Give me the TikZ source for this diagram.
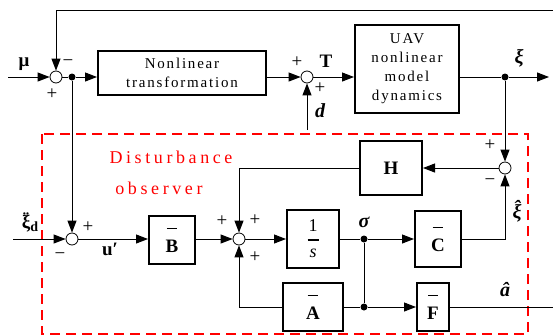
\documentclass[tikz,border=0pt]{standalone}
\usepackage{fontspec}
\setmainfont{Liberation Serif}
\newfontfamily\spaced[LetterSpace=12]{Liberation Serif}
\newfontfamily\wide[LetterSpace=20]{Liberation Serif}
\usetikzlibrary{arrows.meta,positioning,calc}
\newcommand\bbar[1]{\setbox0\hbox{\bfseries#1}\vbox{\hbox to\wd0{\hss\vrule width .8\wd0 height 1.7pt\hss}\kern3pt\box0}}
\newcommand\accon[3]{\ooalign{#3\cr\hidewidth\raisebox{#1}{#2}\hidewidth\cr}}

\begin{document}
\begin{tikzpicture}[x=1pt,y=-1pt,
  blk/.style={draw,line width=2pt,inner sep=0pt,align=center,font=\bfseries\fontsize{19}{20}\selectfont},
  txt/.style={blk,font=\spaced\fontsize{15}{19}\selectfont},
  sumc/.style={circle,draw,fill=white,line width=0.8pt,inner sep=0pt,minimum size=12pt},
  dot/.style={circle,fill,inner sep=0pt,minimum size=7pt},
  sg/.style={inner sep=0pt,font=\fontsize{19}{19}\selectfont},
  lb/.style={inner sep=0pt,font=\bfseries\fontsize{19}{19}\selectfont},
  bi/.style={lb,font=\bfseries\itshape\fontsize{20}{20}\selectfont},
  >={Triangle[length=12pt,width=9pt]},line width=1pt]
\useasboundingbox (0,0) rectangle (553,335);
\draw[red,line width=1.8pt,dash pattern=on 10pt off 6pt] (42,134) rectangle (528,334);
\node[red,inner sep=0pt,font=\wide\fontsize{18}{18}\selectfont] (dtit) at (171,157) {Disturbance};
\node[red,inner sep=0pt,font=\wide\fontsize{18}{18}\selectfont] (otit) at (159,188) {observer};
% upper loop
\node[sumc] (sum1) at (56,77) {};
\node[dot] (dot1) at (72,77) {};
\node[txt,minimum width=168pt,minimum height=44pt] (nt) at (182,73) {Nonlinear\\transformation};
\node[sumc] (sum2) at (307,77) {};
\node[txt,minimum width=104pt,minimum height=88pt] (uav) at (407,69) {UAV\\nonlinear\\model\\dynamics};
\node[dot] (dxi) at (505,77) {};
\coordinate (min) at (8,77);
\coordinate (xiout) at (549,77);
\coordinate (fb) at (553,10);
\coordinate (din) at (307,130);
% observer
\node[sumc] (sum3) at (505,168) {};
\node[blk,minimum width=62pt,minimum height=54pt] (h) at (391,168) {H};
\node[sumc] (sumu) at (72,239) {};
\node[blk,minimum width=46pt,minimum height=48pt] (bb) at (172,240) {\bbar{B}};
\node[sumc] (sum4) at (239,239) {};
\node[blk,minimum width=52pt,minimum height=58pt,font=\fontsize{18}{13}\selectfont] (int) at (313,239)
  {1\\\rule[4pt]{11pt}{1.4pt}\\\itshape s};
\node[dot] (dsig) at (364,239) {};
\node[blk,minimum width=46pt,minimum height=56pt] (cc) at (438,239) {\bbar{C}};
\node[blk,minimum width=60pt,minimum height=48pt] (aa) at (313,307) {\bbar{A}};
\node[dot] (dsig2) at (364,307) {};
\node[blk,minimum width=32pt,minimum height=48pt] (ff) at (433,307) {\bbar{F}};
\coordinate (xin) at (13,239);
\coordinate (aout) at (553,307);
% connectors
\draw[->] (min) -- (sum1);
\draw[->] (fb) -- (fb -| sum1) -- (sum1);
\draw (sum1) -- (dot1);
\draw[->] (dot1) -- (dot1 -| nt.west);
\draw[->] (nt.east |- sum2) -- (sum2);
\draw[->] (din) -- (sum2);
\draw[->] (sum2) -- (sum2 -| uav.west);
\draw (sum2 -| uav.east) -- (dxi);
\draw[->] (dxi) -- (xiout);
\draw[->] (dxi) -- (sum3);
\draw[->] (sum3) -- (h);
\draw[->] (h) -| (sum4);
\draw[->] (dot1) -- (sumu);
\draw[->] (xin) -- (sumu);
\draw[->] (sumu) -- (sumu -| bb.west);
\draw[->] (bb.east |- sum4) -- (sum4);
\draw[->] (sum4) -- (int);
\draw (int) -- (dsig);
\draw[->] (dsig) -- (cc);
\draw[->] (cc) -| (sum3);
\draw (dsig) -- (dsig2);
\draw[->] (dsig2) -- (ff);
\draw (dsig2) -- (aa);
\draw[->] (aa) -| (sum4);
\draw (ff) -- (aout);
% signs and labels
\node[sg] (s1m) at (68,63) {−};
\node[sg] (s1p) at (52,94) {+};
\node[sg] (s2p) at (297,62) {+};
\node[sg] (s2q) at (320,88) {+};
\node[sg] (s3p) at (490,145) {+};
\node[sg] (s3m) at (490,182) {−};
\node[sg] (sup) at (88,227) {+};
\node[sg] (sum) at (60,256) {−};
\node[sg] (s4a) at (222,221) {+};
\node[sg] (s4b) at (255,220) {+};
\node[sg] (s4c) at (255,257) {+};
\node[lb] (lmu) at (24,64) {μ};
\node[lb] (lt) at (326,61) {T};
\node[bi] (ld) at (320,111) {d};
\node[bi] (lxi) at (519,58) {ξ};
\node[lb] (lxd) at (30,223) {\accon{3pt}{¨}{ξ}\raisebox{-3pt}{\fontsize{14}{14}\selectfont d}};
\node[lb] (lu) at (110,249) {u′};
\node[bi] (lsig) at (364,222) {σ};
\node[bi] (lxh) at (517,212) {\accon{4pt}{ˆ}{ξ}};
\node[bi] (lah) at (505,290) {â};
\end{tikzpicture}
\end{document}
